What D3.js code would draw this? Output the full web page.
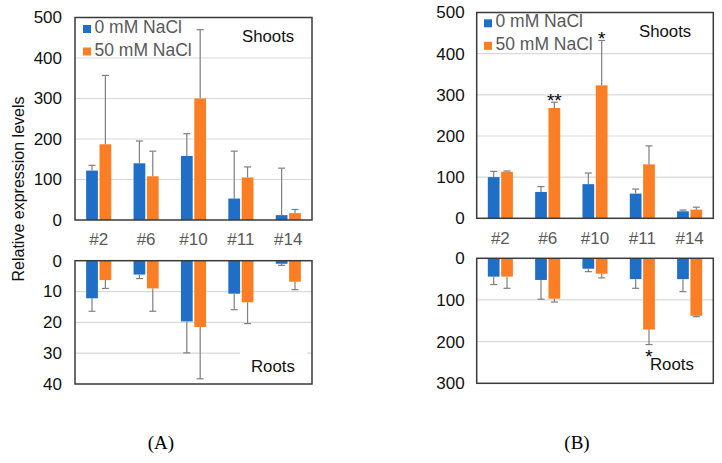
<!DOCTYPE html>
<html>
<head>
<meta charset="utf-8">
<script src="https://cdn.jsdelivr.net/npm/d3@7"></script>
<style>
  body { margin: 0; background: #fff; }
  svg text { font-family: "Liberation Sans", Arial, sans-serif; }
</style>
</head>
<body>
<div id="chart"></div>
<script>
// lines / categories
var genes = ["#2", "#6", "#10", "#11", "#14"];
var series = ["0 mM NaCl", "50 mM NaCl"];

// (A) shoots
var aShootCtrl = [122, 140, 158, 53, 12];
var aShootCtrlSd = [13, 55, 55, 117, 116];
var aShootSalt = [187, 108, 300, 105, 17];
var aShootSaltSd = [170, 62, 170, 26, 9];
// (A) roots
var aRootCtrl = [12.2, 4.5, 19.7, 10.7, 1.0];
var aRootCtrlSd = [4.2, 1.3, 10.2, 5.2, 0.5];
var aRootSalt = [6.3, 9.0, 21.5, 13.5, 6.8];
var aRootSaltSd = [2.7, 7.4, 16.8, 6.9, 2.6];

// (B) shoots
var bShootCtrl = [100, 64, 83, 60, 17];
var bShootCtrlSd = [14, 13, 27, 11, 3];
var bShootSalt = [113, 268, 323, 131, 21];
var bShootSaltSd = [2, 14, 109, 45, 6];
var bShootSig = ["", "**", "*", "", ""];
// (B) roots
var bRootCtrl = [44, 52, 25, 50, 50];
var bRootCtrlSd = [19, 46, 7, 22, 30];
var bRootSalt = [44, 97, 37, 171, 138];
var bRootSaltSd = [28, 8, 10, 36, 2];
var bRootSig = ["", "", "", "*", ""];

var aShootTicks = [0, 100, 200, 300, 400, 500];
var aRootTicks = [0, 10, 20, 30, 40];
var bShootTicks = [0, 100, 200, 300, 400, 500];
var bRootTicks = [0, 100, 200, 300];

var colors = ["#1f6fc6", "#fb7e24"];
var W = 722, H = 463;

var svg = d3.select("#chart").append("svg")
    .attr("width", W)
    .attr("height", H);

function draw_half(p) {
    var g = svg.append("g");
    var x = d3.scaleBand().domain(genes).range([p.x0, p.x1])
        .paddingInner(0.47).paddingOuter(0.235);
    var xs = d3.scaleBand().domain([0, 1]).range([0, x.bandwidth()]).paddingInner(0.12);
    var y = d3.scaleLinear().domain([0, p.max]).range(p.range);

    // grid
    g.selectAll(".grid").data(p.ticks.slice(1, -1)).enter().append("line")
        .attr("x1", p.x0).attr("x2", p.x1)
        .attr("y1", function(d){ return y(d); })
        .attr("y2", function(d){ return y(d); })
        .style("stroke", "#d9d9d9").style("stroke-width", 1.2);

    if (p.mask) {
        g.append("rect").attr("x", p.mask[0]).attr("y", p.mask[1])
            .attr("width", p.mask[2]).attr("height", p.mask[3]).style("fill", "white");
    }

    var vals = [p.ctrl, p.salt], sds = [p.ctrlSd, p.saltSd];
    [0, 1].forEach(function(s) {
        genes.forEach(function(gn, i) {
            var bx = x(gn) + xs(s);
            var v = vals[s][i], e = v + sds[s][i];
            g.append("rect")
                .attr("x", bx).attr("width", xs.bandwidth())
                .attr("y", Math.min(y(0), y(v)))
                .attr("height", Math.abs(y(v) - y(0)))
                .style("fill", colors[s]);
            var cx = bx + xs.bandwidth() / 2;
            g.append("line").attr("x1", cx).attr("x2", cx)
                .attr("y1", y(v)).attr("y2", y(e))
                .style("stroke", "#7f7f7f").style("stroke-width", 1.2);
            g.append("line").attr("x1", cx - 3.5).attr("x2", cx + 3.5)
                .attr("y1", y(e)).attr("y2", y(e))
                .style("stroke", "#7f7f7f").style("stroke-width", 1.2);
            if (s == 1 && p.sig && p.sig[i]) {
                g.append("text").attr("x", cx)
                    .attr("y", y(e) + p.sigOff)
                    .attr("text-anchor", "middle")
                    .style("font-size", "19px")
                    .text(p.sig[i]);
            }
        });
    });

    // frame
    g.append("rect")
        .attr("x", p.x0).attr("y", Math.min(p.range[0], p.range[1]))
        .attr("width", p.x1 - p.x0)
        .attr("height", Math.abs(p.range[1] - p.range[0]))
        .style("fill", "none").style("stroke", "#3a3a3a").style("stroke-width", 1.5);

    var ax = g.append("g")
        .attr("transform", "translate(" + p.x0 + ",0)")
        .call(d3.axisLeft(y).tickValues(p.ticks).tickSize(0).tickPadding(p.pad));
    ax.select(".domain").remove();
    ax.selectAll("text")
        .style("font-family", "Liberation Sans, Arial, sans-serif")
        .style("font-size", "17px").style("fill", "#111");

    g.append("text").attr("x", p.labX).attr("y", p.labY)
        .style("font-size", "16.8px").style("fill", "#111")
        .text(p.label);
    return x;
}

function draw_panel(p) {
    var x = draw_half({ x0: p.x0, x1: p.x1, max: 500, range: p.topR, ticks: p.topTicks,
        ctrl: p.sc, ctrlSd: p.scSd, salt: p.ss, saltSd: p.ssSd, sig: p.sSig, sigOff: 5,
        pad: p.pad, label: "Shoots", labX: p.shootX, labY: p.shootY });
    draw_half({ x0: p.x0, x1: p.x1, max: p.rootMax, range: p.botR, ticks: p.botTicks,
        ctrl: p.rc, ctrlSd: p.rcSd, salt: p.rs, saltSd: p.rsSd, sig: p.rSig, sigOff: 18,
        pad: p.pad, label: "Roots", labX: p.rootX, labY: p.rootY, mask: p.mask });

    // gene labels
    svg.append("g").selectAll("text").data(genes).enter().append("text")
        .attr("x", function(d){ return x(d) + x.bandwidth() / 2; })
        .attr("y", p.catY)
        .attr("text-anchor", "middle")
        .style("font-size", "17px").style("fill", "#595959")
        .text(function(d){ return d; });

    // legend
    series.forEach(function(s, i) {
        svg.append("rect").attr("x", p.legX).attr("y", p.legY + i * 22.5 - 8)
            .attr("width", 8).attr("height", 8).style("fill", colors[i]);
        svg.append("text").attr("x", p.legX + 11.5).attr("y", p.legY + i * 22.5)
            .style("font-size", "17.5px").style("fill", "#595959")
            .text(s);
    });

    svg.append("text").attr("x", p.capX).attr("y", 449)
        .attr("text-anchor", "middle")
        .style("font-family", "Liberation Serif, Times New Roman, serif")
        .style("font-size", "19px")
        .text(p.cap);
}

draw_panel({ x0: 75, x1: 312, topR: [220, 17.5], botR: [260.7, 384], rootMax: 40,
    topTicks: aShootTicks, botTicks: aRootTicks,
    sc: aShootCtrl, scSd: aShootCtrlSd, ss: aShootSalt, ssSd: aShootSaltSd,
    rc: aRootCtrl, rcSd: aRootCtrlSd, rs: aRootSalt, rsSd: aRootSaltSd,
    pad: 13, shootX: 242, shootY: 42, rootX: 251, rootY: 371.5,
    mask: [240, 344, 67, 32], catY: 245, legX: 83, legY: 33, cap: "(A)", capX: 161 });

draw_panel({ x0: 476.7, x1: 713.3, topR: [218.3, 12.5], botR: [258.3, 383.3], rootMax: 300,
    topTicks: bShootTicks, botTicks: bRootTicks,
    sc: bShootCtrl, scSd: bShootCtrlSd, ss: bShootSalt, ssSd: bShootSaltSd, sSig: bShootSig,
    rc: bRootCtrl, rcSd: bRootCtrlSd, rs: bRootSalt, rsSd: bRootSaltSd, rSig: bRootSig,
    pad: 12, shootX: 639, shootY: 36.7, rootX: 650, rootY: 370,
    catY: 243.5, legX: 484, legY: 27.3, cap: "(B)", capX: 577 });

// y title
svg.append("text")
    .attr("transform", "translate(24,189) rotate(-90)")
    .attr("text-anchor", "middle")
    .style("font-size", "16px").style("fill", "#111")
    .text("Relative expression levels");
</script>
</body>
</html>
